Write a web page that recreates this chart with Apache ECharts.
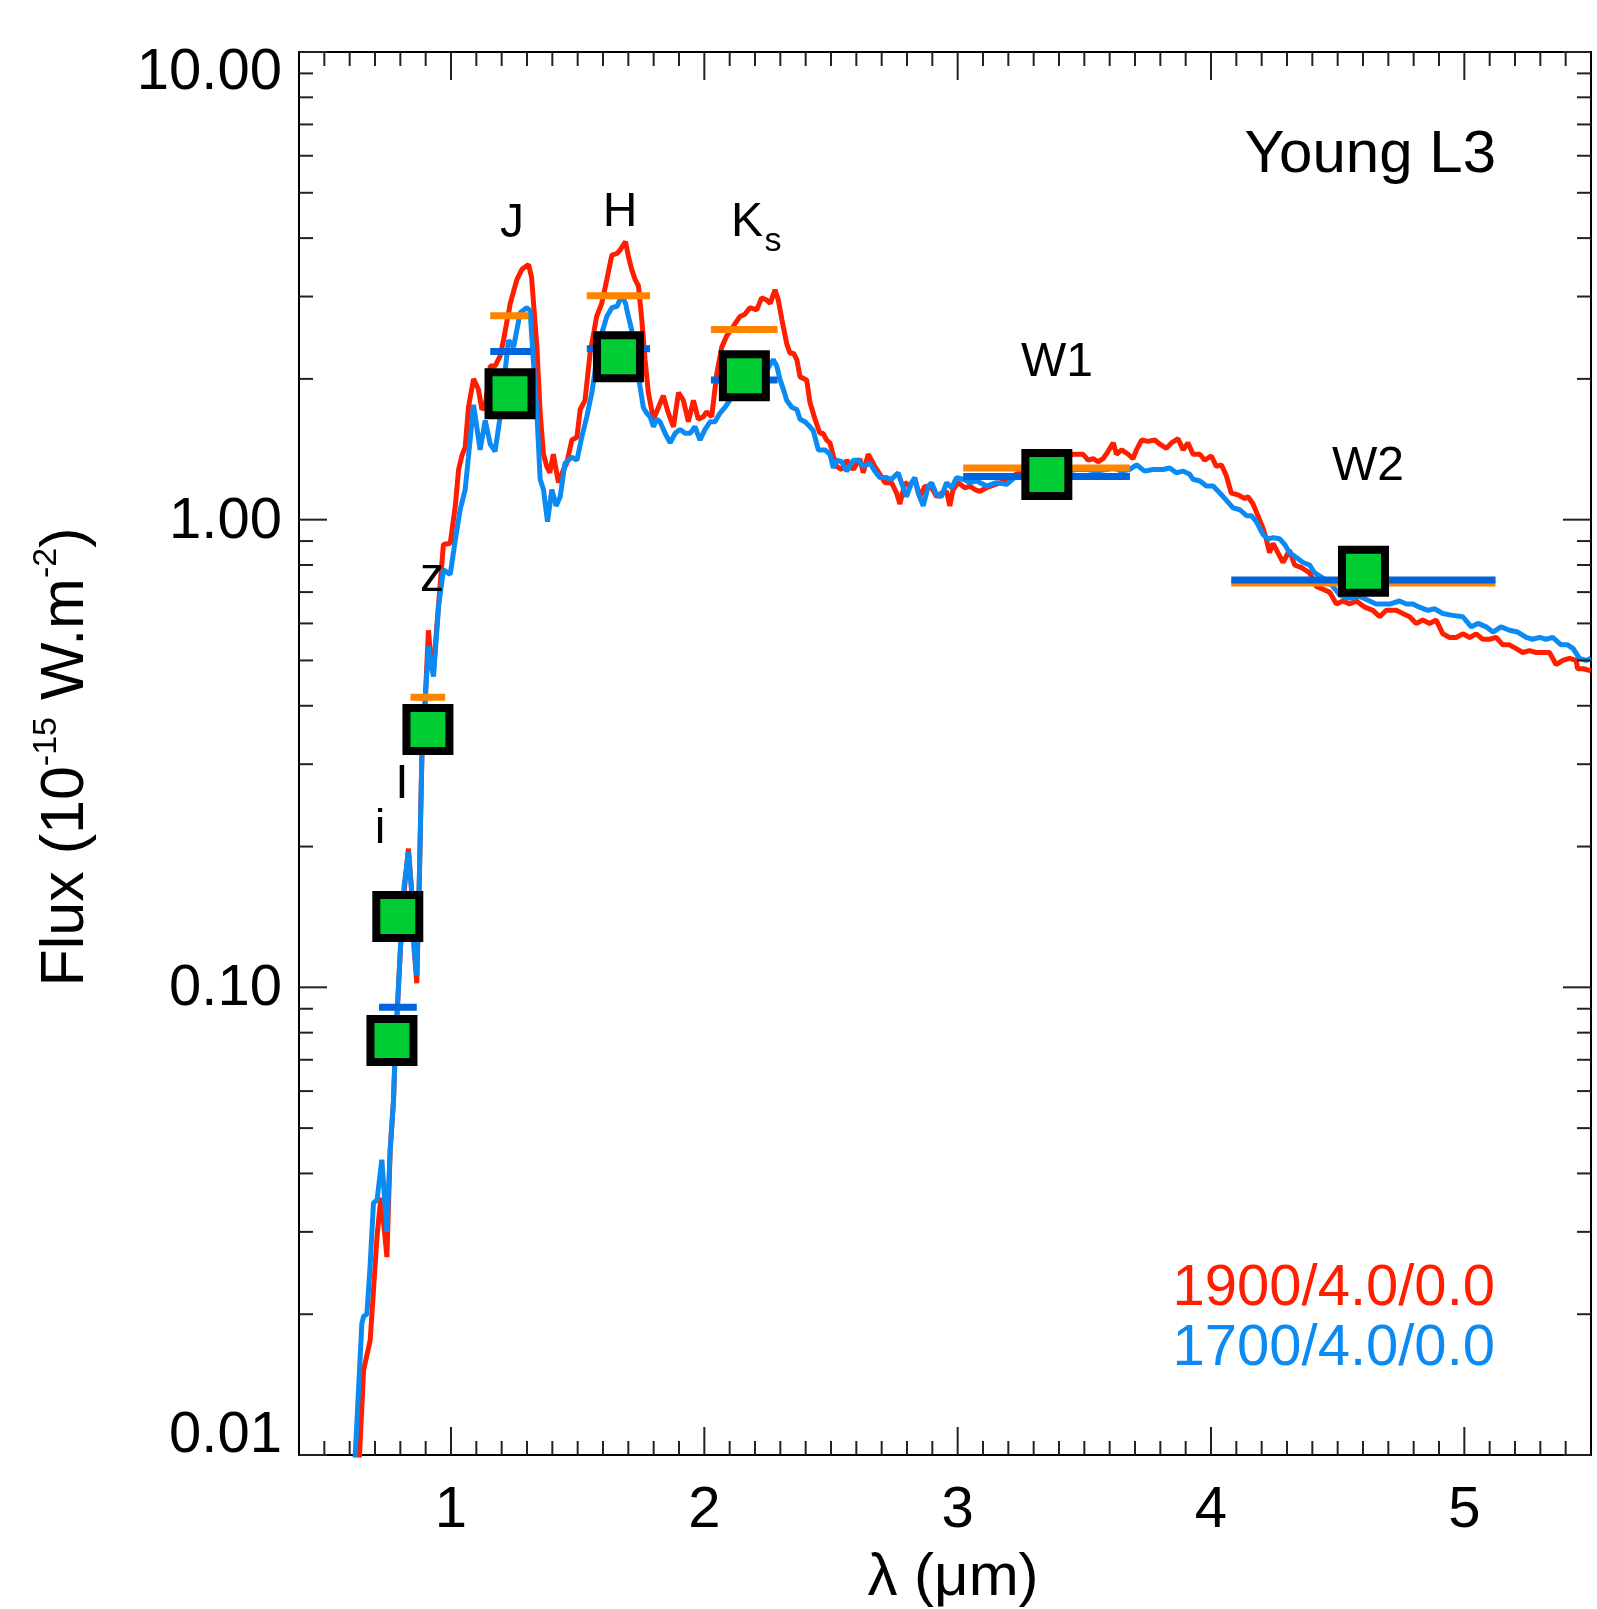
<!DOCTYPE html>
<html>
<head>
<meta charset="utf-8">
<script src="https://cdn.jsdelivr.net/npm/echarts@6/dist/echarts.min.js"></script>
<style>
html,body{margin:0;padding:0;background:#fff;}
#chart{width:1597px;height:1609px;}
</style>
</head>
<body>
<div id="chart"></div>
<script>
// ---------------- DATA ----------------
// Model spectrum 1900/4.0/0.0 (red)
var redWave = [0.637,0.655,0.681,0.708,0.723,0.735,0.747,0.760,0.773,0.780,0.800,0.815,0.832,0.845,0.855,0.865,0.875,0.885,0.898,0.911,0.921,0.931,0.951,0.970,0.997,1.017,1.030,1.043,1.056,1.069,1.089,1.108,1.122,1.135,1.155,1.174,1.194,1.207,1.234,1.260,1.280,1.306,1.318,1.339,1.352,1.365,1.378,1.390,1.404,1.424,1.444,1.457,1.477,1.497,1.510,1.529,1.549,1.575,1.595,1.615,1.635,1.656,1.667,1.689,1.700,1.713,1.727,1.740,1.753,1.766,1.779,1.799,1.819,1.838,1.858,1.878,1.898,1.917,1.937,1.957,1.976,1.996,2.009,2.029,2.049,2.069,2.088,2.114,2.141,2.160,2.180,2.207,2.226,2.246,2.260,2.279,2.292,2.306,2.325,2.338,2.352,2.365,2.378,2.404,2.417,2.437,2.456,2.469,2.483,2.496,2.509,2.522,2.542,2.562,2.588,2.614,2.627,2.647,2.673,2.693,2.713,2.739,2.759,2.772,2.792,2.811,2.831,2.851,2.871,2.897,2.917,2.936,2.956,2.969,2.982,3.002,3.028,3.048,3.068,3.088,3.114,3.150,3.190,3.230,3.270,3.310,3.350,3.390,3.420,3.455,3.475,3.495,3.515,3.535,3.554,3.574,3.594,3.614,3.627,3.647,3.673,3.692,3.706,3.726,3.752,3.778,3.798,3.824,3.844,3.870,3.890,3.909,3.929,3.956,3.975,4.001,4.021,4.041,4.061,4.080,4.107,4.133,4.146,4.166,4.185,4.205,4.218,4.231,4.245,4.264,4.284,4.310,4.330,4.357,4.389,4.416,4.442,4.468,4.495,4.521,4.547,4.574,4.607,4.639,4.666,4.692,4.731,4.757,4.784,4.810,4.836,4.863,4.889,4.915,4.942,4.968,4.994,5.021,5.047,5.073,5.099,5.126,5.152,5.178,5.205,5.231,5.257,5.283,5.310,5.336,5.362,5.389,5.415,5.441,5.447,5.470,5.500];
var redFlux = [0.0095,0.0152,0.0176,0.0293,0.0355,0.031,0.0265,0.045,0.0574,0.0735,0.12,0.16,0.198,0.16,0.12,0.102,0.17,0.31,0.41,0.58,0.50,0.478,0.66,0.885,0.89,1.07,1.28,1.37,1.43,1.74,2.0,1.90,1.72,1.75,2.13,2.13,2.24,2.42,2.90,3.26,3.43,3.51,3.30,2.34,1.69,1.38,1.30,1.26,1.38,1.20,1.28,1.32,1.48,1.50,1.72,1.80,2.27,2.72,2.90,3.26,3.68,3.71,3.77,3.93,3.66,3.43,3.26,3.16,2.68,2.20,1.87,1.64,1.74,1.84,1.69,1.58,1.87,1.80,1.62,1.80,1.64,1.66,1.70,1.66,2.05,2.34,2.47,2.59,2.72,2.75,2.84,2.81,2.98,2.95,2.90,3.10,2.95,2.68,2.38,2.27,2.27,2.20,2.02,1.99,1.78,1.64,1.53,1.53,1.48,1.46,1.37,1.30,1.28,1.34,1.28,1.35,1.26,1.38,1.30,1.25,1.20,1.20,1.14,1.08,1.20,1.18,1.22,1.12,1.18,1.17,1.12,1.14,1.15,1.07,1.16,1.20,1.17,1.18,1.16,1.15,1.17,1.19,1.21,1.25,1.27,1.29,1.30,1.33,1.35,1.38,1.38,1.38,1.34,1.35,1.33,1.35,1.40,1.46,1.38,1.41,1.38,1.35,1.41,1.48,1.47,1.48,1.45,1.42,1.46,1.49,1.41,1.46,1.38,1.38,1.34,1.37,1.30,1.31,1.24,1.14,1.13,1.11,1.12,1.08,1.02,0.96,0.91,0.85,0.89,0.85,0.81,0.86,0.80,0.79,0.77,0.72,0.71,0.70,0.66,0.67,0.66,0.67,0.65,0.64,0.62,0.64,0.64,0.63,0.62,0.60,0.61,0.60,0.61,0.57,0.56,0.56,0.57,0.56,0.57,0.555,0.555,0.56,0.54,0.54,0.53,0.52,0.525,0.52,0.52,0.52,0.49,0.50,0.505,0.50,0.48,0.48,0.475];

// Model spectrum 1700/4.0/0.0 (blue)
var blueWave = [0.620,0.648,0.655,0.668,0.680,0.694,0.708,0.727,0.747,0.760,0.773,0.780,0.800,0.815,0.832,0.845,0.855,0.865,0.875,0.885,0.898,0.911,0.921,0.931,0.951,0.970,0.997,1.017,1.036,1.056,1.069,1.089,1.115,1.135,1.155,1.174,1.194,1.210,1.227,1.247,1.273,1.299,1.312,1.325,1.339,1.352,1.365,1.381,1.398,1.415,1.431,1.450,1.477,1.497,1.516,1.536,1.556,1.575,1.595,1.615,1.635,1.656,1.674,1.689,1.700,1.713,1.730,1.746,1.759,1.772,1.786,1.799,1.812,1.825,1.845,1.865,1.885,1.904,1.924,1.944,1.963,1.983,2.003,2.023,2.042,2.062,2.082,2.100,2.130,2.170,2.210,2.250,2.272,2.286,2.299,2.312,2.325,2.345,2.365,2.378,2.397,2.417,2.430,2.450,2.476,2.496,2.509,2.522,2.542,2.562,2.588,2.608,2.627,2.654,2.673,2.693,2.719,2.739,2.765,2.778,2.798,2.818,2.831,2.844,2.864,2.884,2.897,2.917,2.936,2.956,2.976,2.996,3.022,3.048,3.075,3.114,3.153,3.193,3.232,3.280,3.330,3.380,3.430,3.469,3.510,3.548,3.587,3.614,3.647,3.679,3.706,3.738,3.771,3.811,3.837,3.863,3.890,3.916,3.929,3.956,3.982,4.008,4.035,4.061,4.087,4.114,4.140,4.159,4.179,4.205,4.225,4.245,4.271,4.291,4.310,4.337,4.363,4.389,4.409,4.442,4.481,4.508,4.534,4.560,4.587,4.626,4.652,4.678,4.705,4.744,4.771,4.797,4.823,4.856,4.882,4.915,4.948,4.994,5.027,5.054,5.086,5.113,5.145,5.178,5.211,5.244,5.270,5.297,5.323,5.349,5.382,5.408,5.430,5.454,5.480,5.500];
var blueFlux = [0.0095,0.0191,0.0198,0.0200,0.025,0.0346,0.0351,0.0428,0.030,0.045,0.057,0.0735,0.12,0.165,0.195,0.16,0.12,0.106,0.17,0.312,0.41,0.536,0.49,0.462,0.652,0.781,0.764,0.906,1.05,1.16,1.365,1.76,1.41,1.63,1.45,1.40,1.66,2.0,2.42,2.34,2.77,2.84,2.80,2.20,1.69,1.22,1.16,0.99,1.16,1.07,1.12,1.32,1.36,1.34,1.50,1.66,1.87,2.20,2.50,2.72,2.84,2.86,3.02,2.90,2.72,2.55,2.20,1.93,1.74,1.69,1.66,1.58,1.64,1.62,1.53,1.46,1.53,1.56,1.53,1.53,1.58,1.48,1.56,1.62,1.62,1.69,1.74,1.80,1.90,2.0,2.05,2.10,2.20,2.13,1.99,1.90,1.80,1.74,1.72,1.64,1.62,1.58,1.55,1.41,1.41,1.38,1.29,1.34,1.33,1.27,1.34,1.34,1.30,1.32,1.27,1.23,1.23,1.22,1.26,1.20,1.12,1.20,1.23,1.14,1.07,1.18,1.20,1.13,1.12,1.20,1.17,1.23,1.22,1.20,1.21,1.18,1.20,1.19,1.24,1.24,1.25,1.26,1.27,1.28,1.28,1.27,1.28,1.29,1.27,1.28,1.31,1.27,1.28,1.28,1.29,1.26,1.27,1.25,1.22,1.21,1.18,1.18,1.14,1.10,1.06,1.05,1.02,1.02,0.99,0.93,0.91,0.915,0.91,0.885,0.85,0.83,0.81,0.80,0.77,0.75,0.72,0.69,0.68,0.68,0.685,0.67,0.66,0.66,0.66,0.67,0.66,0.66,0.65,0.64,0.645,0.63,0.625,0.62,0.59,0.60,0.59,0.575,0.59,0.58,0.575,0.56,0.555,0.56,0.555,0.56,0.54,0.54,0.53,0.505,0.50,0.505];

// Observed photometry (green squares)
var photBands = ['i','I','z','J','H','Ks','W1','W2'];
var photWave = [0.767,0.790,0.909,1.233,1.661,2.158,3.352,4.602];
var photFlux = [0.077,0.1417,0.356,1.859,2.23,2.03,1.249,0.776];

// Synthetic photometry of the models: [filter start, filter end, flux]
var orangeBandLo = [0.840,1.155,1.536,2.026,3.022,4.080];
var orangeBandHi = [0.977,1.306,1.786,2.289,3.680,5.123];
var orangeBandFlux = [0.417,2.73,3.01,2.55,1.289,0.732];
var blueBandLo = [0.716,1.155,1.536,2.026,3.022,4.080];
var blueBandHi = [0.865,1.315,1.786,2.289,3.680,5.123];
var blueBandFlux = [0.0907,2.29,2.32,1.99,1.237,0.743];

// Axis ticks and labels
var xMajorTicks = [1,2,3,4,5];
var xTickLabels = ['1','2','3','4','5'];
var xMinorTicks = [0.5,0.6,0.7,0.8,0.9,1.1,1.2,1.3,1.4,1.5,1.6,1.7,1.8,1.9,2.1,2.2,2.3,2.4,2.5,2.6,2.7,2.8,2.9,3.1,3.2,3.3,3.4,3.5,3.6,3.7,3.8,3.9,4.1,4.2,4.3,4.4,4.5,4.6,4.7,4.8,4.9,5.1,5.2,5.3,5.4];
var yMajorTicks = [0.01,0.1,1,10];
var yTickLabels = ['0.01','0.10','1.00','10.00'];
var yMinorTicks = [0.02,0.03,0.04,0.05,0.06,0.07,0.08,0.09,0.2,0.3,0.4,0.5,0.6,0.7,0.8,0.9,2,3,4,5,6,7,8,9];

var X_MIN = 0.4, X_MAX = 5.5, Y_MIN = 0.01, Y_MAX = 10;

// ---------------- STYLE ----------------
var FONT = '"Liberation Sans", Arial, Helvetica, sans-serif';
var RED = '#ff1e00', BLUE = '#0a8af2', ORANGE = '#ff8400', DBLUE = '#0064dc', GREEN = '#00cc33';
var TICK_COLOR = '#222';

function zip(a, b) { return a.map(function (v, i) { return [v, b[i]]; }); }
function bands(lo, hi, f) { return lo.map(function (v, i) { return [v, hi[i], f[i]]; }); }

function barRender(color) {
  return function (params, api) {
    var a = api.coord([api.value(0), api.value(2)]);
    var b = api.coord([api.value(1), api.value(2)]);
    return { type: 'rect', shape: { x: a[0], y: a[1] - 3.5, width: b[0] - a[0], height: 7 },
             style: { fill: color } };
  };
}
function xTickRender(len) {
  return function (params, api) {
    var v = api.value(0);
    var pb = api.coord([v, Y_MIN]), pt = api.coord([v, Y_MAX]);
    var st = { stroke: TICK_COLOR, lineWidth: 2 };
    return { type: 'group', children: [
      { type: 'line', shape: { x1: pb[0], y1: pb[1], x2: pb[0], y2: pb[1] - len }, style: st },
      { type: 'line', shape: { x1: pt[0], y1: pt[1], x2: pt[0], y2: pt[1] + len }, style: st }
    ]};
  };
}
function yTickRender(len) {
  return function (params, api) {
    var v = api.value(1);
    var pl = api.coord([X_MIN, v]), pr = api.coord([X_MAX, v]);
    var st = { stroke: TICK_COLOR, lineWidth: 2 };
    return { type: 'group', children: [
      { type: 'line', shape: { x1: pl[0], y1: pl[1], x2: pl[0] + len, y2: pl[1] }, style: st },
      { type: 'line', shape: { x1: pr[0], y1: pr[1], x2: pr[0] - len, y2: pr[1] }, style: st }
    ]};
  };
}

var chart = echarts.init(document.getElementById('chart'), null, { renderer: 'canvas' });

var option = {
  animation: false,
  backgroundColor: '#fff',
  grid: { left: 299, top: 52, width: 1292, height: 1403, show: true, borderColor: '#000', borderWidth: 2, backgroundColor: 'transparent' },
  xAxis: { type: 'value', min: X_MIN, max: X_MAX, axisLine: { show: false }, axisTick: { show: false }, axisLabel: { show: false }, splitLine: { show: false } },
  yAxis: { type: 'log', logBase: 10, min: Y_MIN, max: Y_MAX, axisLine: { show: false }, axisTick: { show: false }, axisLabel: { show: false }, splitLine: { show: false } },
  series: [
    { type: 'line', name: '1900/4.0/0.0', data: zip(redWave, redFlux), showSymbol: false, symbol: 'none', z: 2,
      lineStyle: { color: RED, width: 5 } },
    { type: 'line', name: '1700/4.0/0.0', data: zip(blueWave, blueFlux), showSymbol: false, symbol: 'none', z: 3,
      lineStyle: { color: BLUE, width: 5 } },
    { type: 'custom', data: bands(orangeBandLo, orangeBandHi, orangeBandFlux), encode: { x: [0, 1], y: 2 },
      renderItem: barRender(ORANGE), z: 4, silent: true },
    { type: 'custom', data: bands(blueBandLo, blueBandHi, blueBandFlux), encode: { x: [0, 1], y: 2 },
      renderItem: barRender(DBLUE), z: 5, silent: true },
    { type: 'scatter', data: zip(photWave, photFlux), symbol: 'rect', symbolSize: 43, z: 6,
      itemStyle: { color: GREEN, borderColor: '#000', borderWidth: 8, opacity: 1 } },
    // ticks
    { type: 'custom', data: xMajorTicks.map(function (v) { return [v, 1]; }), encode: { x: 0, y: 1 }, renderItem: xTickRender(28), z: 10, silent: true, clip: false },
    { type: 'custom', data: xMinorTicks.map(function (v) { return [v, 1]; }), encode: { x: 0, y: 1 }, renderItem: xTickRender(14), z: 10, silent: true, clip: false },
    { type: 'custom', data: yMajorTicks.map(function (v) { return [1, v]; }), encode: { x: 0, y: 1 }, renderItem: yTickRender(28), z: 10, silent: true, clip: false },
    { type: 'custom', data: yMinorTicks.map(function (v) { return [1, v]; }), encode: { x: 0, y: 1 }, renderItem: yTickRender(14), z: 10, silent: true, clip: false },
    // tick labels
    { type: 'custom', data: xMajorTicks.map(function (v) { return [v, 1]; }), encode: { x: 0, y: 1 }, z: 10, silent: true, clip: false,
      renderItem: function (params, api) {
        var p = api.coord([api.value(0), Y_MIN]);
        return { type: 'text', x: p[0], y: p[1] + 56,
          style: { text: xTickLabels[params.dataIndex], fill: '#000', font: '58px ' + FONT, align: 'center', verticalAlign: 'middle' } };
      } },
    { type: 'custom', data: yMajorTicks.map(function (v) { return [1, v]; }), encode: { x: 0, y: 1 }, z: 10, silent: true, clip: false,
      renderItem: function (params, api) {
        var v = api.value(1);
        var p = api.coord([X_MIN, v]);
        var dy = (v >= Y_MAX) ? 21 : (v <= Y_MIN ? -19 : 2);
        return { type: 'text', x: p[0] - 17, y: p[1] + dy,
          style: { text: yTickLabels[params.dataIndex], fill: '#000', font: '58px ' + FONT, align: 'right', verticalAlign: 'middle' } };
      } }
  ],
  graphic: [
    { type: 'text', x: 512, y: 224, style: { text: 'J', fill: '#000', font: '48px ' + FONT, align: 'center', verticalAlign: 'middle' }, z: 20 },
    { type: 'text', x: 620, y: 213, style: { text: 'H', fill: '#000', font: '48px ' + FONT, align: 'center', verticalAlign: 'middle' }, z: 20 },
    { type: 'text', x: 747, y: 223, style: { text: 'K', fill: '#000', font: '48px ' + FONT, align: 'center', verticalAlign: 'middle' }, z: 20 },
    { type: 'text', x: 773, y: 242, style: { text: 's', fill: '#000', font: '34px ' + FONT, align: 'center', verticalAlign: 'middle' }, z: 20 },
    { type: 'text', x: 1057, y: 363, style: { text: 'W1', fill: '#000', font: '48px ' + FONT, align: 'center', verticalAlign: 'middle' }, z: 20 },
    { type: 'text', x: 1368, y: 467, style: { text: 'W2', fill: '#000', font: '48px ' + FONT, align: 'center', verticalAlign: 'middle' }, z: 20 },
    { type: 'text', x: 432, y: 578, style: { text: 'z', fill: '#000', font: '48px ' + FONT, align: 'center', verticalAlign: 'middle' }, z: 20 },
    { type: 'text', x: 402, y: 785, style: { text: 'I', fill: '#000', font: '48px ' + FONT, align: 'center', verticalAlign: 'middle' }, z: 20 },
    { type: 'text', x: 380, y: 830, style: { text: 'i', fill: '#000', font: '48px ' + FONT, align: 'center', verticalAlign: 'middle' }, z: 20 },
    { type: 'text', x: 1496, y: 155, style: { text: 'Young L3', fill: '#000', font: '60px ' + FONT, align: 'right', verticalAlign: 'middle' }, z: 20 },
    { type: 'text', x: 1495, y: 1289, style: { text: '1900/4.0/0.0', fill: RED, font: '58px ' + FONT, align: 'right', verticalAlign: 'middle' }, z: 20 },
    { type: 'text', x: 1495, y: 1349, style: { text: '1700/4.0/0.0', fill: BLUE, font: '58px ' + FONT, align: 'right', verticalAlign: 'middle' }, z: 20 },
    { type: 'text', x: 953, y: 1578, style: { text: 'λ (μm)', fill: '#000', font: '60px ' + FONT, align: 'center', verticalAlign: 'middle' }, z: 20 },
    { type: 'text', x: 66, y: 757, rotation: Math.PI / 2,
      style: { text: '{n|Flux (10}{s|-15}{n| W.m}{s|-2}{n|)}', fill: '#000', align: 'center', verticalAlign: 'middle',
        rich: { n: { fontSize: 61, fontFamily: FONT, lineHeight: 72, fill: '#000' },
                s: { fontSize: 34, fontFamily: FONT, lineHeight: 72, verticalAlign: 'top', fill: '#000' } } }, z: 20 }
  ]
};
chart.setOption(option);
</script>
</body>
</html>
